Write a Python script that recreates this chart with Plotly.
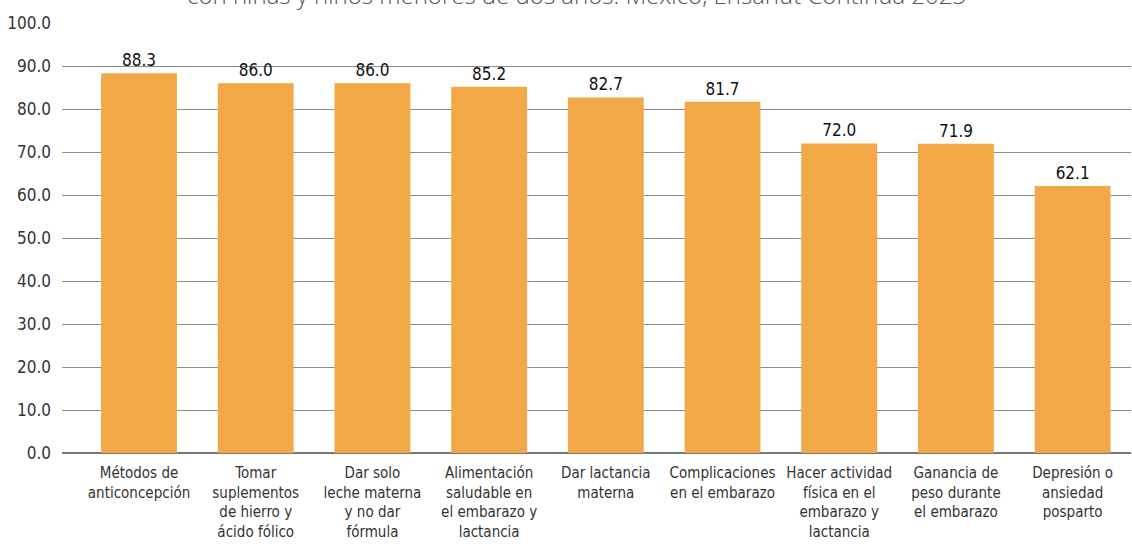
import plotly.graph_objects as go

categories = [
    "Métodos de<br>anticoncepción",
    "Tomar<br>suplementos<br>de hierro y<br>ácido fólico",
    "Dar solo<br>leche materna<br>y no dar<br>fórmula",
    "Alimentación<br>saludable en<br>el embarazo y<br>lactancia",
    "Dar lactancia<br>materna",
    "Complicaciones<br>en el embarazo",
    "Hacer actividad<br>física en el<br>embarazo y<br>lactancia",
    "Ganancia de<br>peso durante<br>el embarazo",
    "Depresión o<br>ansiedad<br>posparto",
]
values = [88.3, 86.0, 86.0, 85.2, 82.7, 81.7, 72.0, 71.9, 62.1]
y_ticks = [0, 10, 20, 30, 40, 50, 60, 70, 80, 90, 100]
title_text = "con niñas y niños menores de dos años. México, Ensanut Continua 2023"

FONT = "DejaVu Sans Condensed, Liberation Sans Narrow, DejaVu Sans, sans-serif"
BAR = "#F3A847"

def f(size, color):
    return dict(family=FONT, size=size, color=color)

fig = go.Figure()
fig.add_trace(go.Bar(
    x=list(range(len(categories))),
    y=values,
    width=0.65,
    marker=dict(color=BAR, line=dict(width=0)),
    text=[f"{v:.1f}" for v in values],
    textposition="outside",
    cliponaxis=False,
    textfont=f(17, "#111111"),
))

fig.update_layout(
    width=1132, height=555,
    margin=dict(l=62, r=1, t=23, b=102),
    paper_bgcolor="white", plot_bgcolor="white",
    showlegend=False,
    bargap=0.35,
    font=f(16, "#333333"),
    xaxis=dict(
        range=[-0.66, 8.5],
        tickmode="array",
        tickvals=list(range(len(categories))),
        ticktext=categories,
        tickangle=0,
        showgrid=False,
        zeroline=False,
        showline=False,
        ticks="",
        ticklabelstandoff=9,
        tickfont=f(15, "#333333"),
    ),
    yaxis=dict(
        range=[0, 100],
        tickmode="array",
        tickvals=y_ticks,
        ticktext=[f"{t:.1f}" for t in y_ticks],
        showgrid=True,
        gridcolor="#8c8c8c",
        gridwidth=1,
        zeroline=True,
        zerolinecolor="#777777",
        zerolinewidth=1.5,
        showline=False,
        ticks="",
        ticklabelstandoff=10,
        tickfont=f(17, "#333333"),
    ),
    annotations=[dict(
        text=title_text,
        xref="paper", yref="paper",
        x=0.481, y=1.0, yshift=10,
        xanchor="center", yanchor="bottom",
        showarrow=False,
        font=dict(family="Open Sans, sans-serif", size=24, color="#555555", weight=300),
    )],
)

fig.write_html(
    "out.html",
    config={"displayModeBar": False},
    post_script=(
        "document.body.style.margin='0';"
        "var s=document.createElement('style');"
        "s.textContent='.xtick text, .ytick text, .bartext, .textpoint text{font-stretch:condensed !important;}';"
        "document.head.appendChild(s);"
    ),
)
